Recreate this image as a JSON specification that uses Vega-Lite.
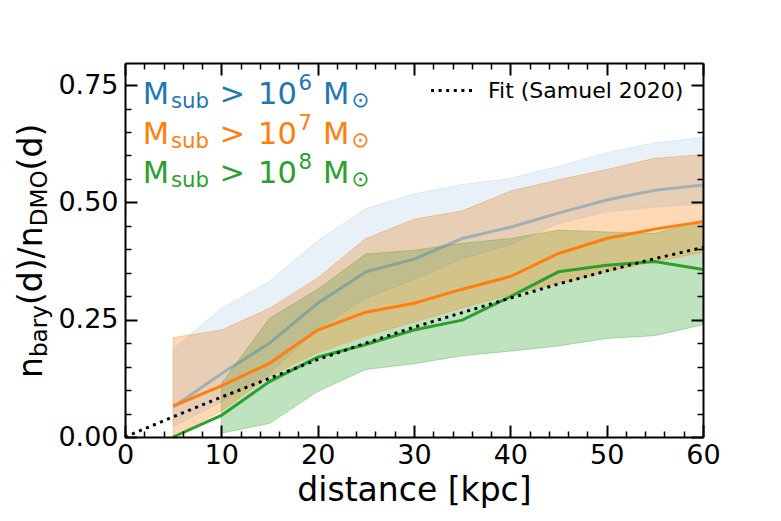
{
  "$schema": "https://vega.github.io/schema/vega-lite/v6.json",
  "usermeta": {"embedOptions": {"actions": false}},
  "width": 578,
  "height": 374,
  "autosize": {"type": "none"},
  "padding": {"left": 125, "top": 63, "right": 78, "bottom": 84},
  "background": "white",
  "config": {
    "view": {"stroke": null},
    "font": "DejaVu Sans",
    "text": {"font": "DejaVu Sans"},
    "axis": {"labelFont": "DejaVu Sans", "titleFont": "DejaVu Sans", "grid": false}
  },
  "datasets": {
    "bands": [
      {"series": "1e6", "d": 5, "lo": 0.022, "med": 0.064, "hi": 0.187},
      {"series": "1e6", "d": 10, "lo": 0.075, "med": 0.135, "hi": 0.274},
      {"series": "1e6", "d": 15, "lo": 0.135, "med": 0.2, "hi": 0.332},
      {"series": "1e6", "d": 20, "lo": 0.23, "med": 0.285, "hi": 0.418},
      {"series": "1e6", "d": 25, "lo": 0.296, "med": 0.352, "hi": 0.487},
      {"series": "1e6", "d": 30, "lo": 0.335, "med": 0.379, "hi": 0.518},
      {"series": "1e6", "d": 35, "lo": 0.38, "med": 0.423, "hi": 0.538},
      {"series": "1e6", "d": 40, "lo": 0.41, "med": 0.447, "hi": 0.551},
      {"series": "1e6", "d": 45, "lo": 0.455, "med": 0.477, "hi": 0.577},
      {"series": "1e6", "d": 50, "lo": 0.48, "med": 0.505, "hi": 0.606},
      {"series": "1e6", "d": 55, "lo": 0.49, "med": 0.526, "hi": 0.627},
      {"series": "1e6", "d": 60, "lo": 0.497, "med": 0.537, "hi": 0.638},
      {"series": "1e7", "d": 5, "lo": 0.0, "med": 0.066, "hi": 0.212},
      {"series": "1e7", "d": 10, "lo": 0.055, "med": 0.109, "hi": 0.228},
      {"series": "1e7", "d": 15, "lo": 0.13, "med": 0.157, "hi": 0.274},
      {"series": "1e7", "d": 20, "lo": 0.18, "med": 0.228, "hi": 0.339},
      {"series": "1e7", "d": 25, "lo": 0.215, "med": 0.266, "hi": 0.423},
      {"series": "1e7", "d": 30, "lo": 0.245, "med": 0.285, "hi": 0.464},
      {"series": "1e7", "d": 35, "lo": 0.275, "med": 0.315, "hi": 0.482},
      {"series": "1e7", "d": 40, "lo": 0.303, "med": 0.342, "hi": 0.524},
      {"series": "1e7", "d": 45, "lo": 0.327, "med": 0.391, "hi": 0.548},
      {"series": "1e7", "d": 50, "lo": 0.352, "med": 0.423, "hi": 0.57},
      {"series": "1e7", "d": 55, "lo": 0.374, "med": 0.443, "hi": 0.594},
      {"series": "1e7", "d": 60, "lo": 0.393, "med": 0.459, "hi": 0.602},
      {"series": "1e8", "d": 5, "lo": null, "med": 0.0, "hi": null},
      {"series": "1e8", "d": 10, "lo": 0.008, "med": 0.046, "hi": 0.114},
      {"series": "1e8", "d": 15, "lo": 0.029, "med": 0.118, "hi": 0.253},
      {"series": "1e8", "d": 20, "lo": 0.097, "med": 0.17, "hi": 0.315},
      {"series": "1e8", "d": 25, "lo": 0.144, "med": 0.197, "hi": 0.39},
      {"series": "1e8", "d": 30, "lo": 0.156, "med": 0.228, "hi": 0.398},
      {"series": "1e8", "d": 35, "lo": 0.173, "med": 0.249, "hi": 0.413},
      {"series": "1e8", "d": 40, "lo": 0.183, "med": 0.299, "hi": 0.423},
      {"series": "1e8", "d": 45, "lo": 0.194, "med": 0.352, "hi": 0.441},
      {"series": "1e8", "d": 50, "lo": 0.21, "med": 0.366, "hi": 0.437},
      {"series": "1e8", "d": 55, "lo": 0.216, "med": 0.374, "hi": 0.434},
      {"series": "1e8", "d": 60, "lo": 0.239, "med": 0.357, "hi": 0.462}
    ],
    "fit": [
      {"d": 0, "fit": 0.0, "label": "Fit (Samuel 2020)"},
      {"d": 5, "fit": 0.043, "label": "Fit (Samuel 2020)"},
      {"d": 10, "fit": 0.085, "label": "Fit (Samuel 2020)"},
      {"d": 15, "fit": 0.125, "label": "Fit (Samuel 2020)"},
      {"d": 20, "fit": 0.165, "label": "Fit (Samuel 2020)"},
      {"d": 25, "fit": 0.2, "label": "Fit (Samuel 2020)"},
      {"d": 30, "fit": 0.234, "label": "Fit (Samuel 2020)"},
      {"d": 35, "fit": 0.265, "label": "Fit (Samuel 2020)"},
      {"d": 40, "fit": 0.296, "label": "Fit (Samuel 2020)"},
      {"d": 45, "fit": 0.326, "label": "Fit (Samuel 2020)"},
      {"d": 50, "fit": 0.354, "label": "Fit (Samuel 2020)"},
      {"d": 55, "fit": 0.38, "label": "Fit (Samuel 2020)"},
      {"d": 60, "fit": 0.404, "label": "Fit (Samuel 2020)"}
    ],
    "legend": [
      {"series": "1e6", "exp": "6", "ly": 0.709},
      {"series": "1e7", "exp": "7", "ly": 0.625},
      {"series": "1e8", "exp": "8", "ly": 0.541}
    ],
    "one": [{}]
  },
  "resolve": {"axis": {"x": "independent", "y": "independent"}},
  "layer": [
    {
      "data": {"name": "fit"},
      "mark": {"type": "point", "opacity": 0},
      "encoding": {
        "x": {"field": "d", "type": "quantitative", "scale": {"domain": [0, 60], "nice": false, "zero": false},
          "axis": {"orient": "bottom", "values": [0, 10, 20, 30, 40, 50, 60], "format": "d", "ticks": false, "domain": false, "grid": false,
            "labelFontSize": 27, "labelColor": "black", "labelPadding": 5, "labelFlush": false, "labelOverlap": false, "labelBound": false,
            "title": "distance [kpc]", "titleFontSize": 33, "titleFontWeight": "normal", "titleColor": "black", "titlePadding": 6}},
        "y": {"field": "fit", "type": "quantitative", "scale": {"domain": [0, 0.797], "nice": false, "zero": false},
          "axis": {"orient": "left", "values": [0, 0.25, 0.5, 0.75], "format": ".2f", "ticks": false, "domain": false, "grid": false,
            "labelFontSize": 27, "labelColor": "black", "labelPadding": 7, "labelFlush": false, "labelOverlap": false, "labelBound": false, "title": null}}
      }
    },
    {
      "data": {"name": "fit"},
      "mark": {"type": "point", "opacity": 0},
      "encoding": {
        "x": {"field": "d", "type": "quantitative", "scale": {"domain": [0, 60], "nice": false, "zero": false},
          "axis": {"orient": "bottom", "values": [0, 10, 20, 30, 40, 50, 60], "labels": false, "ticks": true, "tickSize": -12, "tickWidth": 2, "tickColor": "black",
            "domain": true, "domainColor": "black", "domainWidth": 2, "grid": false, "title": null, "zindex": 1}},
        "y": {"field": "fit", "type": "quantitative", "scale": {"domain": [0, 0.797], "nice": false, "zero": false},
          "axis": {"orient": "left", "values": [0, 0.25, 0.5, 0.75], "labels": false, "ticks": true, "tickSize": -12, "tickWidth": 2, "tickColor": "black",
            "domain": true, "domainColor": "black", "domainWidth": 2, "grid": false, "title": null, "zindex": 1}}
      }
    },
    {
      "data": {"name": "fit"},
      "mark": {"type": "point", "opacity": 0},
      "encoding": {
        "x": {"field": "d", "type": "quantitative", "scale": {"domain": [0, 60], "nice": false, "zero": false},
          "axis": {"orient": "bottom", "values": [2, 4, 6, 8, 12, 14, 16, 18, 22, 24, 26, 28, 32, 34, 36, 38, 42, 44, 46, 48, 52, 54, 56, 58], "labels": false, "ticks": true, "tickSize": -6, "tickWidth": 1.5, "tickColor": "black",
            "domain": false, "grid": false, "title": null, "zindex": 1}},
        "y": {"field": "fit", "type": "quantitative", "scale": {"domain": [0, 0.797], "nice": false, "zero": false},
          "axis": {"orient": "left", "values": [0.05, 0.1, 0.15, 0.2, 0.3, 0.35, 0.4, 0.45, 0.55, 0.6, 0.65, 0.7], "labels": false, "ticks": true, "tickSize": -6, "tickWidth": 1.5, "tickColor": "black",
            "domain": false, "grid": false, "title": null, "zindex": 1}}
      }
    },
    {
      "data": {"name": "fit"},
      "mark": {"type": "point", "opacity": 0},
      "encoding": {
        "x": {"field": "d", "type": "quantitative", "scale": {"domain": [0, 60], "nice": false, "zero": false},
          "axis": {"orient": "top", "values": [0, 10, 20, 30, 40, 50, 60], "labels": false, "ticks": true, "tickSize": -12, "tickWidth": 2, "tickColor": "black",
            "domain": true, "domainColor": "black", "domainWidth": 2, "grid": false, "title": null, "zindex": 1}},
        "y": {"field": "fit", "type": "quantitative", "scale": {"domain": [0, 0.797], "nice": false, "zero": false},
          "axis": {"orient": "right", "values": [0, 0.25, 0.5, 0.75], "labels": false, "ticks": true, "tickSize": -12, "tickWidth": 2, "tickColor": "black",
            "domain": true, "domainColor": "black", "domainWidth": 2, "grid": false, "title": null, "zindex": 1}}
      }
    },
    {
      "data": {"name": "fit"},
      "mark": {"type": "point", "opacity": 0},
      "encoding": {
        "x": {"field": "d", "type": "quantitative", "scale": {"domain": [0, 60], "nice": false, "zero": false},
          "axis": {"orient": "top", "values": [2, 4, 6, 8, 12, 14, 16, 18, 22, 24, 26, 28, 32, 34, 36, 38, 42, 44, 46, 48, 52, 54, 56, 58], "labels": false, "ticks": true, "tickSize": -6, "tickWidth": 1.5, "tickColor": "black",
            "domain": false, "grid": false, "title": null, "zindex": 1}},
        "y": {"field": "fit", "type": "quantitative", "scale": {"domain": [0, 0.797], "nice": false, "zero": false},
          "axis": {"orient": "right", "values": [0.05, 0.1, 0.15, 0.2, 0.3, 0.35, 0.4, 0.45, 0.55, 0.6, 0.65, 0.7], "labels": false, "ticks": true, "tickSize": -6, "tickWidth": 1.5, "tickColor": "black",
            "domain": false, "grid": false, "title": null, "zindex": 1}}
      }
    },
    {
      "data": {"name": "bands"},
      "transform": [{"filter": "datum.series === '1e8'"}],
      "mark": {"type": "area", "color": "#2ca02c", "fillOpacity": 0.3, "stroke": "#2ca02c", "strokeOpacity": 0.3, "strokeWidth": 1},
      "encoding": {
        "x": {"field": "d", "type": "quantitative", "scale": {"domain": [0, 60], "nice": false, "zero": false}, "axis": null},
        "y": {"field": "lo", "type": "quantitative", "scale": {"domain": [0, 0.797], "nice": false, "zero": false}, "axis": null},
        "y2": {"field": "hi"}
      }
    },
    {
      "data": {"name": "bands"},
      "transform": [{"filter": "datum.series === '1e7'"}],
      "mark": {"type": "area", "color": "#ff7f0e", "fillOpacity": 0.3, "stroke": "#ff7f0e", "strokeOpacity": 0.3, "strokeWidth": 1},
      "encoding": {
        "x": {"field": "d", "type": "quantitative", "scale": {"domain": [0, 60], "nice": false, "zero": false}, "axis": null},
        "y": {"field": "lo", "type": "quantitative", "scale": {"domain": [0, 0.797], "nice": false, "zero": false}, "axis": null},
        "y2": {"field": "hi"}
      }
    },
    {
      "data": {"name": "bands"},
      "transform": [{"filter": "datum.series === '1e6'"}],
      "mark": {"type": "area", "color": "#1f77b4", "fillOpacity": 0.1, "stroke": "#1f77b4", "strokeOpacity": 0.1, "strokeWidth": 1},
      "encoding": {
        "x": {"field": "d", "type": "quantitative", "scale": {"domain": [0, 60], "nice": false, "zero": false}, "axis": null},
        "y": {"field": "lo", "type": "quantitative", "scale": {"domain": [0, 0.797], "nice": false, "zero": false}, "axis": null},
        "y2": {"field": "hi"}
      }
    },
    {
      "data": {"name": "bands"},
      "transform": [{"filter": "datum.series === '1e6'"}],
      "mark": {"type": "line", "color": "#1f77b4", "strokeWidth": 3, "strokeOpacity": 0.35},
      "encoding": {
        "x": {"field": "d", "type": "quantitative", "scale": {"domain": [0, 60], "nice": false, "zero": false}, "axis": null},
        "y": {"field": "med", "type": "quantitative", "scale": {"domain": [0, 0.797], "nice": false, "zero": false}, "axis": null}
      }
    },
    {
      "data": {"name": "bands"},
      "transform": [{"filter": "datum.series === '1e7'"}],
      "mark": {"type": "line", "color": "#ff7f0e", "strokeWidth": 3},
      "encoding": {
        "x": {"field": "d", "type": "quantitative", "scale": {"domain": [0, 60], "nice": false, "zero": false}, "axis": null},
        "y": {"field": "med", "type": "quantitative", "scale": {"domain": [0, 0.797], "nice": false, "zero": false}, "axis": null}
      }
    },
    {
      "data": {"name": "bands"},
      "transform": [{"filter": "datum.series === '1e8'"}],
      "mark": {"type": "line", "color": "#2ca02c", "strokeWidth": 3},
      "encoding": {
        "x": {"field": "d", "type": "quantitative", "scale": {"domain": [0, 60], "nice": false, "zero": false}, "axis": null},
        "y": {"field": "med", "type": "quantitative", "scale": {"domain": [0, 0.797], "nice": false, "zero": false}, "axis": null}
      }
    },
    {
      "data": {"name": "fit"},
      "mark": {"type": "line", "color": "black", "strokeWidth": 3},
      "encoding": {
        "x": {"field": "d", "type": "quantitative", "scale": {"domain": [0, 60], "nice": false, "zero": false}, "axis": null},
        "y": {"field": "fit", "type": "quantitative", "scale": {"domain": [0, 0.797], "nice": false, "zero": false}, "axis": null},
        "strokeDash": {"field": "label", "type": "nominal", "scale": {"range": [[3, 4.6]]},
          "legend": {"title": null, "orient": "none", "legendX": 304, "legendY": 4, "padding": 0, "symbolType": "stroke", "symbolSize": 1850,
            "symbolStrokeWidth": 3, "symbolStrokeColor": "black", "labelFontSize": 22, "labelFont": "DejaVu Sans", "labelColor": "black",
            "labelOffset": 12, "labelLimit": 400}}
      }
    },
    {
      "data": {"name": "legend"},
      "mark": {"type": "text", "text": "M", "fontSize": 30.5, "align": "left", "baseline": "alphabetic", "dx": 17.8, "dy": 0},
      "encoding": {
        "x": {"datum": 0, "type": "quantitative", "scale": {"domain": [0, 60], "nice": false, "zero": false}, "axis": null},
        "y": {"field": "ly", "type": "quantitative", "scale": {"domain": [0, 0.797], "nice": false, "zero": false}, "axis": null},
        "color": {"field": "series", "type": "nominal", "scale": {"domain": ["1e6", "1e7", "1e8"], "range": ["#1f77b4", "#ff7f0e", "#2ca02c"]}, "legend": null}
      }
    },
    {
      "data": {"name": "legend"},
      "mark": {"type": "text", "text": "sub", "fontSize": 21.3, "align": "left", "baseline": "alphabetic", "dx": 46, "dy": 4},
      "encoding": {
        "x": {"datum": 0, "type": "quantitative", "scale": {"domain": [0, 60], "nice": false, "zero": false}, "axis": null},
        "y": {"field": "ly", "type": "quantitative", "scale": {"domain": [0, 0.797], "nice": false, "zero": false}, "axis": null},
        "color": {"field": "series", "type": "nominal", "scale": {"domain": ["1e6", "1e7", "1e8"], "range": ["#1f77b4", "#ff7f0e", "#2ca02c"]}, "legend": null}
      }
    },
    {
      "data": {"name": "legend"},
      "mark": {"type": "text", "text": ">", "fontSize": 30.5, "align": "left", "baseline": "alphabetic", "dx": 94.5, "dy": 0},
      "encoding": {
        "x": {"datum": 0, "type": "quantitative", "scale": {"domain": [0, 60], "nice": false, "zero": false}, "axis": null},
        "y": {"field": "ly", "type": "quantitative", "scale": {"domain": [0, 0.797], "nice": false, "zero": false}, "axis": null},
        "color": {"field": "series", "type": "nominal", "scale": {"domain": ["1e6", "1e7", "1e8"], "range": ["#1f77b4", "#ff7f0e", "#2ca02c"]}, "legend": null}
      }
    },
    {
      "data": {"name": "legend"},
      "mark": {"type": "text", "text": "10", "fontSize": 30.5, "align": "left", "baseline": "alphabetic", "dx": 133, "dy": 0},
      "encoding": {
        "x": {"datum": 0, "type": "quantitative", "scale": {"domain": [0, 60], "nice": false, "zero": false}, "axis": null},
        "y": {"field": "ly", "type": "quantitative", "scale": {"domain": [0, 0.797], "nice": false, "zero": false}, "axis": null},
        "color": {"field": "series", "type": "nominal", "scale": {"domain": ["1e6", "1e7", "1e8"], "range": ["#1f77b4", "#ff7f0e", "#2ca02c"]}, "legend": null}
      }
    },
    {
      "data": {"name": "legend"},
      "mark": {"type": "text", "fontSize": 21.3, "align": "left", "baseline": "alphabetic", "dx": 173.5, "dy": -14},
      "encoding": {
        "x": {"datum": 0, "type": "quantitative", "scale": {"domain": [0, 60], "nice": false, "zero": false}, "axis": null},
        "y": {"field": "ly", "type": "quantitative", "scale": {"domain": [0, 0.797], "nice": false, "zero": false}, "axis": null},
        "text": {"field": "exp", "type": "nominal"},
        "color": {"field": "series", "type": "nominal", "scale": {"domain": ["1e6", "1e7", "1e8"], "range": ["#1f77b4", "#ff7f0e", "#2ca02c"]}, "legend": null}
      }
    },
    {
      "data": {"name": "legend"},
      "mark": {"type": "text", "text": "M", "fontSize": 30.5, "align": "left", "baseline": "alphabetic", "dx": 198, "dy": 0},
      "encoding": {
        "x": {"datum": 0, "type": "quantitative", "scale": {"domain": [0, 60], "nice": false, "zero": false}, "axis": null},
        "y": {"field": "ly", "type": "quantitative", "scale": {"domain": [0, 0.797], "nice": false, "zero": false}, "axis": null},
        "color": {"field": "series", "type": "nominal", "scale": {"domain": ["1e6", "1e7", "1e8"], "range": ["#1f77b4", "#ff7f0e", "#2ca02c"]}, "legend": null}
      }
    },
    {
      "data": {"name": "legend"},
      "mark": {"type": "text", "text": "⊙", "fontSize": 21.3, "align": "left", "baseline": "alphabetic", "dx": 226.5, "dy": 3},
      "encoding": {
        "x": {"datum": 0, "type": "quantitative", "scale": {"domain": [0, 60], "nice": false, "zero": false}, "axis": null},
        "y": {"field": "ly", "type": "quantitative", "scale": {"domain": [0, 0.797], "nice": false, "zero": false}, "axis": null},
        "color": {"field": "series", "type": "nominal", "scale": {"domain": ["1e6", "1e7", "1e8"], "range": ["#1f77b4", "#ff7f0e", "#2ca02c"]}, "legend": null}
      }
    },
    {
      "data": {"name": "one"},
      "mark": {"type": "text", "text": "n", "fontSize": 33, "angle": 270, "align": "left", "baseline": "alphabetic", "dx": -128.7, "dy": -83, "color": "black"},
      "encoding": {
        "x": {"datum": 0, "type": "quantitative", "scale": {"domain": [0, 60], "nice": false, "zero": false}, "axis": null},
        "y": {"datum": 0.4, "type": "quantitative", "scale": {"domain": [0, 0.797], "nice": false, "zero": false}, "axis": null}
      }
    },
    {
      "data": {"name": "one"},
      "mark": {"type": "text", "text": "bary", "fontSize": 23.1, "angle": 270, "align": "left", "baseline": "alphabetic", "dx": -107.8, "dy": -78.5, "color": "black"},
      "encoding": {
        "x": {"datum": 0, "type": "quantitative", "scale": {"domain": [0, 60], "nice": false, "zero": false}, "axis": null},
        "y": {"datum": 0.4, "type": "quantitative", "scale": {"domain": [0, 0.797], "nice": false, "zero": false}, "axis": null}
      }
    },
    {
      "data": {"name": "one"},
      "mark": {"type": "text", "text": "(d)/n", "fontSize": 33, "angle": 270, "align": "left", "baseline": "alphabetic", "dx": -55.8, "dy": -83, "color": "black"},
      "encoding": {
        "x": {"datum": 0, "type": "quantitative", "scale": {"domain": [0, 60], "nice": false, "zero": false}, "axis": null},
        "y": {"datum": 0.4, "type": "quantitative", "scale": {"domain": [0, 0.797], "nice": false, "zero": false}, "axis": null}
      }
    },
    {
      "data": {"name": "one"},
      "mark": {"type": "text", "text": "DMO", "fontSize": 23.1, "angle": 270, "align": "left", "baseline": "alphabetic", "dx": 23, "dy": -78.5, "color": "black"},
      "encoding": {
        "x": {"datum": 0, "type": "quantitative", "scale": {"domain": [0, 60], "nice": false, "zero": false}, "axis": null},
        "y": {"datum": 0.4, "type": "quantitative", "scale": {"domain": [0, 0.797], "nice": false, "zero": false}, "axis": null}
      }
    },
    {
      "data": {"name": "one"},
      "mark": {"type": "text", "text": "(d)", "fontSize": 33, "angle": 270, "align": "left", "baseline": "alphabetic", "dx": 78.9, "dy": -83, "color": "black"},
      "encoding": {
        "x": {"datum": 0, "type": "quantitative", "scale": {"domain": [0, 60], "nice": false, "zero": false}, "axis": null},
        "y": {"datum": 0.4, "type": "quantitative", "scale": {"domain": [0, 0.797], "nice": false, "zero": false}, "axis": null}
      }
    }
  ]
}
